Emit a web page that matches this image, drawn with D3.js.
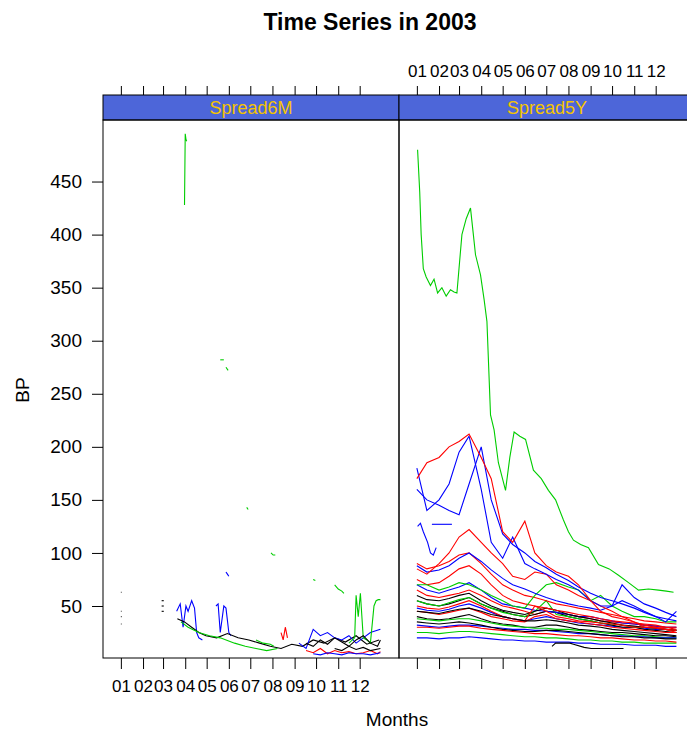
<!DOCTYPE html>
<html><head><meta charset="utf-8">
<script src="https://cdn.jsdelivr.net/npm/d3@7"></script>
<style>body{margin:0;background:#fff}text{font-family:"Liberation Sans",Arial,sans-serif}</style>
</head><body><div id="plot"></div>
<script>
// ---- data (BP, day-of-year in 2003) ----
let panels = ["Spread6M", "Spread5Y"];
let monthLabels = ["01","02","03","04","05","06","07","08","09","10","11","12"];
let yTicks = [50, 100, 150, 200, 250, 300, 350, 400, 450];
let colors = ["black", "red", "#00CD00", "blue"];

let gridDays = [1,15,32,46,60,74,91,105,121,135,152,166,182,196,213,227,244,258,274,288,305,319,335,349,364];

// Spread5Y
let greenTopDays = [2,5,7,10,14,20,25,30,36,42,48,53,57,64,70,76,80,83,90,95,99,104,109,115,125,131,137,145,153,164,175,185,195,206,213,220,230,241,255,270,283,297,311,325,339,350,360];
let greenTopVals = [480,440,400,368,360,352,358,345,350,342,348,346,345,400,415,425,400,381,362,339,318,230,216,185,159,190,214,210,207,178,170,159,150,131,120,112,108,105,89,85,79,72,65,66,65,64,63];
let redHigh  = [170,185,190,200,205,212,190,170,120,110,130,100,88,82,78,70,55,45,40,38,35,32,30,30,28];
let blueHigh = [180,140,150,165,195,210,160,110,95,115,90,85,80,75,70,65,55,50,50,55,50,45,40,35,45];
let blueTwo  = [160,150,145,140,136,165,200,150,118,108,100,92,86,80,74,68,62,58,55,52,48,44,40,38,36];
let redMid   = [85,80,90,100,115,122,110,100,90,78,75,82,80,70,65,60,55,50,45,40,35,30,30,28,25];
let blueMid  = [88,82,84,88,95,100,92,84,76,70,66,62,58,55,52,50,48,46,50,70,58,52,48,44,40];
let greenMid = [70,70,65,68,72,70,65,60,55,50,48,60,70,72,68,65,55,60,50,45,40,40,38,35,35];
let redHi2   = [90,85,88,92,98,100,90,80,70,65,60,58,55,52,50,48,46,44,42,40,38,36,35,34,33];
let blackA = [40,38,37,38,40,42,38,35,33,32,30,30,32,32,30,28,27,26,25,25,24,23,22,22,21];
let blackB = [55,52,50,52,55,58,52,48,45,42,40,42,45,44,40,38,36,34,32,30,30,28,27,26,25];
let blackC = [35,34,33,34,35,34,32,30,28,27,26,26,27,27,26,25,24,23,22,21,21,20,20,19,19];
let blackD = [60,56,55,57,60,62,55,50,46,44,42,45,48,46,42,40,38,36,34,32,31,30,29,28,27];
let blackE = [45,44,43,45,47,48,45,42,40,38,36,36,37,36,34,32,31,30,28,27,26,25,24,23,22];
let redA   = [65,60,58,60,62,65,60,55,50,48,45,42,45,44,42,40,38,36,35,34,33,32,31,30,30];
let redB   = [45,44,42,44,46,48,44,40,38,36,35,40,42,38,36,35,33,32,30,29,28,27,26,25,25];
let redC   = [30,30,29,30,31,31,29,28,27,26,25,24,24,23,22,22,21,20,20,19,18,18,17,17,16];
let redD   = [50,48,47,49,52,55,50,45,40,38,36,50,45,40,38,36,35,34,33,32,30,30,29,28,27];
let redE   = [75,70,72,78,85,88,80,70,60,55,52,50,48,46,44,42,40,38,36,35,34,33,32,30,30];
let greenA = [38,37,36,37,38,38,36,34,32,31,30,29,29,28,28,27,26,25,24,23,22,22,21,20,20];
let greenB = [25,25,24,25,26,26,25,24,23,22,21,21,20,20,19,18,18,17,17,16,16,15,15,15,15];
let greenC = [55,52,50,53,56,58,52,48,44,42,40,45,55,42,40,38,36,34,33,32,30,30,29,28,27];
let blueA  = [48,46,45,47,50,52,48,44,40,38,36,38,40,38,36,34,33,32,31,30,30,29,28,28,27];
let blueB  = [32,31,30,31,32,32,31,30,29,28,28,27,27,26,25,24,24,23,22,22,21,21,20,20,20];
let blueC  = [70,65,62,65,68,72,65,58,52,50,48,46,45,44,42,40,40,38,36,34,33,32,31,30,30];
let blueD  = [20,20,19,20,20,21,20,19,18,18,17,17,16,16,16,15,15,14,14,14,13,13,13,12,12];
let blueShortDays = [2,6,10,16,20,24,28]; let blueShortVals = [125,128,120,110,100,98,105];
let blueDashDays = [22,50]; let blueDashVals = [127,127];
let blackLowDays = [190,195,215,220,235,245,250,270,290]; let blackLowVals = [12,15,15,14,11,10,10,10,10];

// Spread6M (sparse)
let leftSeries = [
  {c:2, d:[90,91,92,93], v:[428,495,490,488]},
  {c:2, d:[140,145], v:[282,282]}, {c:2, d:[148,151], v:[275,272]},
  {c:2, d:[177,179], v:[143,141]}, {c:2, d:[211,214,217], v:[100,98,98]},
  {c:2, d:[270,273], v:[75,74]}, {c:2, d:[300,305,310,313], v:[70,66,64,62]},
  {c:3, d:[148,150,152], v:[82,80,78]},
  {c:0, d:[1,2], v:[63,63]}, {c:0, d:[1,2], v:[45,45]}, {c:0, d:[1,2], v:[40,40]}, {c:0, d:[1,2], v:[33,33]},
  {c:0, d:[58,61], v:[55,55]}, {c:0, d:[58,61], v:[50,50]}, {c:0, d:[58,61], v:[45,45]},
  {c:3, d:[79,84,88,92,95,100,104,107,110,115], v:[45,52,30,50,45,55,48,25,20,18]},
  {c:3, d:[134,137,140,145,148,152,155], v:[50,52,25,50,48,25,22]},
  {c:0, d:[80,90,100,110,120,135,150,165,180,195,210,225,240,255,270,285,300,315,330,345,362], v:[38,35,30,25,22,20,24,20,18,15,12,10,14,12,18,15,20,16,22,14,18]},
  {c:2, d:[85,95,110,125,140,160,175,190,205,220], v:[35,30,25,22,20,15,12,10,8,10]},
  {c:3, d:[250,260,270,280,290,300,310,320,330,340,350,364], v:[15,10,28,22,25,20,18,22,15,20,25,28]},
  {c:1, d:[225,228,231,234], v:[25,18,30,20]},
  {c:1, d:[260,270,280,290,300,310,320,330,340,350,360,364], v:[8,6,10,5,8,6,7,5,6,8,5,7]},
  {c:2, d:[320,328,330,333,336,340,345,350,355,358,361,364], v:[15,20,60,40,62,20,18,15,50,55,56,56]},
  {c:0, d:[260,270,280,290,300,310,320,330,340,350,360,364], v:[15,12,18,14,20,16,12,18,22,15,12,18]},
  {c:3, d:[270,280,290,300,310,320,330,340,350,364], v:[5,4,6,5,4,6,5,5,4,6]},
  {c:2, d:[190,200,210,215], v:[18,15,14,12]},
  {c:0, d:[300,310,320,330,340,350,364], v:[10,8,12,9,11,8,10]}
];

let rightSeries = [
  {c:0,d:gridDays,v:blackA},{c:1,d:gridDays,v:redA},{c:2,d:gridDays,v:greenA},{c:3,d:gridDays,v:blueA},
  {c:0,d:gridDays,v:blackB},{c:1,d:gridDays,v:redB},{c:2,d:gridDays,v:greenB},{c:3,d:gridDays,v:blueB},
  {c:0,d:gridDays,v:blackC},{c:1,d:gridDays,v:redC},{c:2,d:gridDays,v:greenC},{c:3,d:gridDays,v:blueC},
  {c:0,d:gridDays,v:blackD},{c:1,d:gridDays,v:redD},{c:3,d:gridDays,v:blueD},
  {c:0,d:gridDays,v:blackE},{c:1,d:gridDays,v:redE},
  {c:1,d:gridDays,v:redHi2},{c:2,d:gridDays,v:greenMid},{c:3,d:gridDays,v:blueMid},{c:1,d:gridDays,v:redMid},
  {c:3,d:gridDays,v:blueTwo},{c:3,d:gridDays,v:blueHigh},{c:1,d:gridDays,v:redHigh},
  {c:3,d:blueShortDays,v:blueShortVals},{c:3,d:blueDashDays,v:blueDashVals},
  {c:0,d:blackLowDays,v:blackLowVals},
  {c:2,d:greenTopDays,v:greenTopVals}
];

// ---- drawing ----
let W = 687, H = 730;
let svg = d3.select("#plot").append("svg").attr("width", W).attr("height", H);
let panelTop = 120, panelBottom = 658, pw = 296;
let lefts = [103, 399];
let dayToDate = d => d3.timeDay.offset(new Date(2003, 0, 1), d - 1);
let y = d3.scaleLinear().domain([1, 508]).range([panelBottom, panelTop]);
let monthStarts = d3.range(12).map(m => new Date(2003, m, 1));

svg.append("text").attr("x", 370).attr("y", 30).attr("text-anchor", "middle")
  .style("font-size", "23px").style("font-weight", "bold").text("Time Series in 2003");

panels.forEach((name, i) => {
  let x0 = lefts[i];
  let x = d3.scaleTime().domain([new Date(2002, 11, 7), new Date(2004, 0, 25)]).range([x0, x0 + pw]);
  let g = svg.append("g");
  let clipId = "clip" + i;
  svg.append("clipPath").attr("id", clipId).append("rect")
    .attr("x", x0).attr("y", panelTop).attr("width", pw).attr("height", panelBottom - panelTop);

  let line = d3.line().x(p => x(dayToDate(p[0]))).y(p => y(p[1]));
  let series = i === 0 ? leftSeries : rightSeries;
  g.append("g").attr("clip-path", "url(#" + clipId + ")").selectAll("path").data(series).join("path")
    .attr("d", s => line(s.d.map((d, k) => [d, s.v[k]])))
    .attr("fill", "none").attr("stroke", s => colors[s.c]).attr("stroke-width", 1.1);

  // strip
  g.append("rect").attr("x", x0).attr("y", 95).attr("width", pw).attr("height", 25)
    .attr("fill", "#4D66D9").attr("stroke", "black");
  g.append("text").attr("x", x0 + pw / 2).attr("y", 114).attr("text-anchor", "middle")
    .style("font-size", "18px").attr("fill", "#F5C400").text(name);
  g.append("rect").attr("x", x0).attr("y", panelTop).attr("width", pw).attr("height", panelBottom - panelTop)
    .attr("fill", "none").attr("stroke", "black");

  // x ticks: labels bottom on left panel, top on right panel
  let tickFmt = (d, k) => monthLabels[k];
  let ab = d3.axisBottom(x).tickValues(monthStarts).tickSize(11).tickPadding(11).tickSizeOuter(0).tickFormat(i === 0 ? tickFmt : "");
  let at = d3.axisTop(x).tickValues(monthStarts).tickSize(9).tickPadding(9).tickSizeOuter(0).tickFormat(i === 1 ? tickFmt : "");
  [[ab, panelBottom], [at, 95]].forEach(([ax, yy]) => {
    let a = g.append("g").attr("transform", "translate(0," + yy + ")").call(ax);
    a.select(".domain").remove();
    a.selectAll("text").style("font-size", "17px").attr("fill", "black");
  });
});

let ay = svg.append("g").attr("transform", "translate(103,0)")
  .call(d3.axisLeft(y).tickValues(yTicks).tickSize(11).tickSizeOuter(0).tickPadding(10));
ay.select(".domain").remove();
ay.selectAll("text").style("font-size", "19px").attr("fill", "black");

svg.append("text").attr("transform", "translate(29,390) rotate(-90)").attr("text-anchor", "middle")
  .style("font-size", "19px").text("BP");
svg.append("text").attr("x", 397).attr("y", 726).attr("text-anchor", "middle")
  .style("font-size", "19px").text("Months");
</script></body></html>
